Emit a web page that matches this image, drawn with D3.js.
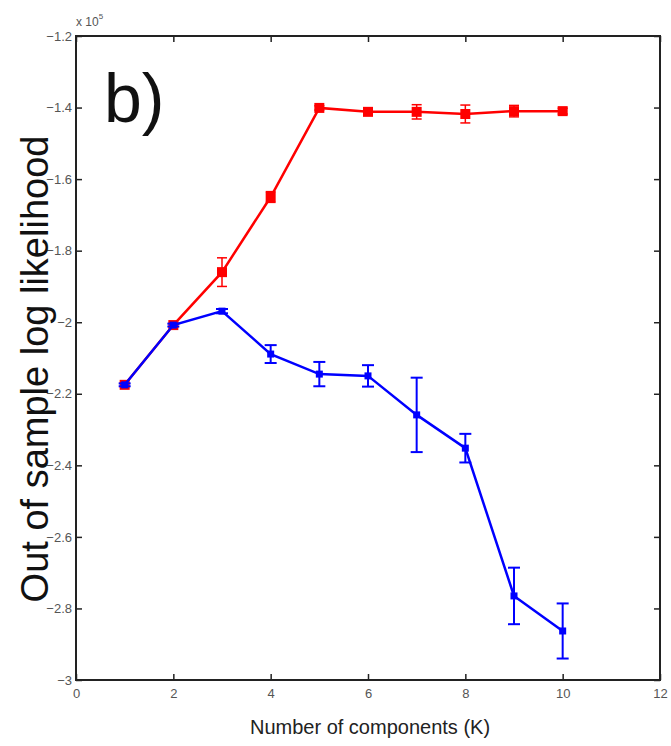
<!DOCTYPE html>
<html>
<head>
<meta charset="utf-8">
<style>
  body { margin: 0; background: #fff; }
  svg { display: block; }
  .tick text { font-family: 'Liberation Sans Narrow', 'Arial Narrow', sans-serif; font-size: 13px; fill: #555; }
</style>
<script src="https://cdn.jsdelivr.net/npm/d3@7"></script>
</head>
<body>
<svg width="671" height="746"></svg>
<script>

// K values
var components = [1, 2, 3, 4, 5, 6, 7, 8, 9, 10];
// red series (x 10^5)
var redMean = [-2.175, -2.008, -1.860, -1.650, -1.401, -1.412, -1.412, -1.418, -1.410, -1.410];
var redErr  = [0.005, 0.005, 0.040, 0.015, 0.006, 0.008, 0.020, 0.025, 0.016, 0.008];
// blue series
var blueMean = [-2.175, -2.008, -1.969, -2.089, -2.145, -2.150, -2.259, -2.352, -2.765, -2.863];
var blueErr  = [0.004, 0.004, 0.006, 0.025, 0.034, 0.030, 0.104, 0.040, 0.079, 0.077];
// tick labels
var xTicks = [0, 2, 4, 6, 8, 10, 12];
var yTicks = [-1.2, -1.4, -1.6, -1.8, -2, -2.2, -2.4, -2.6, -2.8, -3];

var svg = d3.select("svg"),
    margin = {top: 36, right: 11, bottom: 66, left: 76},
    width = +svg.attr("width") - margin.left - margin.right,
    height = +svg.attr("height") - margin.top - margin.bottom,
    g = svg.append("g").attr("transform", "translate(" + margin.left + "," + margin.top + ")");

var x = d3.scaleLinear().domain([0, 12]).range([0, width]);
var y = d3.scaleLinear().domain([-3, -1.2]).range([height, 0]);

// axes, matlab style: inward ticks on all four sides
g.append("g")
  .attr("transform", "translate(0," + height + ")")
  .call(d3.axisBottom(x).tickValues(xTicks).tickSizeInner(-6).tickSizeOuter(0).tickPadding(9));
g.append("g")
  .call(d3.axisLeft(y).tickValues(yTicks).tickSizeInner(-6).tickSizeOuter(0).tickPadding(4)
    .tickFormat(function (d) { return d3.format("")(d).replace("-", "\u2212"); }));
g.append("g")
  .call(d3.axisTop(x).tickValues(xTicks).tickSizeInner(-6).tickSizeOuter(0).tickFormat(""));
g.append("g")
  .attr("transform", "translate(" + width + ",0)")
  .call(d3.axisRight(y).tickValues(yTicks).tickSizeInner(-6).tickSizeOuter(0).tickFormat(""));

g.selectAll(".domain").remove();
g.selectAll(".tick line").attr("stroke", "#222").attr("stroke-width", 1.5);
g.append("rect")
  .attr("width", width).attr("height", height)
  .attr("fill", "none").attr("stroke", "#222").attr("stroke-width", 2);

function drawSeries(mean, err, color, lw, ew, cap, msize) {
  var pts = components.map(function (k, i) { return {k: k, m: mean[i], e: err[i]}; });
  var line = d3.line().x(function (d) { return x(d.k); }).y(function (d) { return y(d.m); });
  g.append("path").datum(pts)
    .attr("fill", "none").attr("stroke", color).attr("stroke-width", lw).attr("d", line);
  var eb = g.append("g").selectAll("g").data(pts).enter().append("g");
  eb.append("line")
    .attr("x1", function (d) { return x(d.k); }).attr("x2", function (d) { return x(d.k); })
    .attr("y1", function (d) { return y(d.m - d.e); }).attr("y2", function (d) { return y(d.m + d.e); })
    .attr("stroke", color).attr("stroke-width", ew);
  [-1, 1].forEach(function (s) {
    eb.append("line")
      .attr("x1", function (d) { return x(d.k) - cap; }).attr("x2", function (d) { return x(d.k) + cap; })
      .attr("y1", function (d) { return y(d.m + s * d.e); }).attr("y2", function (d) { return y(d.m + s * d.e); })
      .attr("stroke", color).attr("stroke-width", ew);
  });
  eb.append("rect")
    .attr("x", function (d) { return x(d.k) - msize / 2; })
    .attr("y", function (d) { return y(d.m) - msize / 2; })
    .attr("width", msize).attr("height", msize)
    .attr("fill", color);
}

drawSeries(redMean, redErr, "#ff0000", 2.5, 1.5, 5, 10);
drawSeries(blueMean, blueErr, "#0000ff", 2.5, 2, 6, 7);

// panel label
svg.append("text")
  .attr("x", 104).attr("y", 122)
  .style("font-family", "'Liberation Sans Narrow', 'Arial Narrow', sans-serif")
  .style("font-size", "68px").style("fill", "#111")
  .text("b)");

// exponent
var ex = svg.append("text")
  .attr("x", 76).attr("y", 26)
  .style("font-family", "'Liberation Sans Narrow', 'Arial Narrow', sans-serif")
  .style("font-size", "12px").style("fill", "#555");
ex.append("tspan").text("x 10");
ex.append("tspan").attr("dy", -7).style("font-size", "8px").text("5");

// axis titles
svg.append("text")
  .attr("transform", "translate(48,369) rotate(-90)")
  .attr("text-anchor", "middle")
  .style("font-family", "'Liberation Sans', Arial, sans-serif")
  .style("font-size", "38px").style("fill", "#111")
  .text("Out of sample log likelihood");

svg.append("text")
  .attr("x", 370).attr("y", 734)
  .attr("text-anchor", "middle")
  .style("font-family", "'Liberation Sans Narrow', 'Arial Narrow', sans-serif")
  .style("font-size", "20px").style("fill", "#222")
  .text("Number of components (K)");

</script>
</body>
</html>
